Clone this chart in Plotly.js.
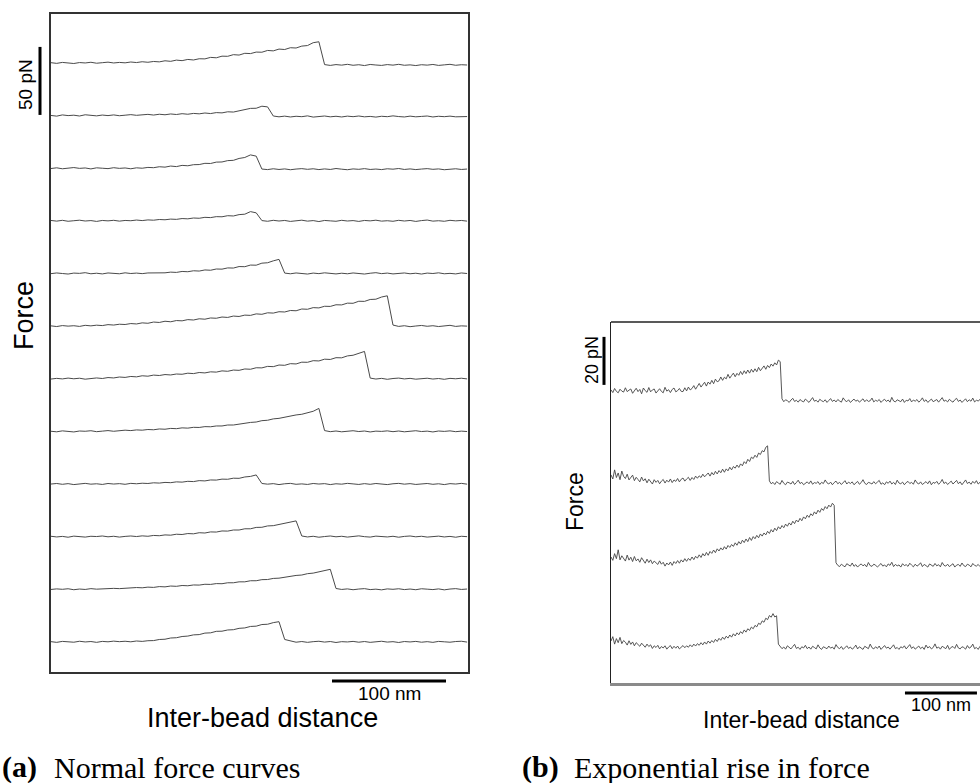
<!DOCTYPE html>
<html>
<head>
<meta charset="utf-8">
<script src="https://cdn.plot.ly/plotly-3.0.1.min.js"></script>
<style>
html,body{margin:0;padding:0;background:#fff;overflow:hidden;}
#chart{width:1000px;height:783px;}
</style>
</head>
<body>
<div id="chart"></div>
<script>
// ---------------- DATA ----------------
// Panel (a): normal force curves. Samples every 5 nm from 0 nm; force (pN) relative to each trace's start level.
const leftStepNm = 5;
const leftTraces = [
[0.2,-0.3,0.4,0.1,-0.4,0.3,0.0,0.5,-0.2,0.2,0.6,0.0,0.4,0.1,0.7,0.3,0.9,0.5,1.1,0.8,1.6,1.2,2.1,1.7,2.6,2.2,3.1,3.0,4.1,3.8,5.0,4.9,6.1,5.8,7.1,6.9,8.0,7.9,9.2,8.9,10.2,9.9,11.2,11.0,12.4,12.8,14.9,15.6,-1.2,-1.8,-1.2,-1.6,-1.0,-1.7,-1.3,-1.9,-1.1,-1.5,-1.8,-1.2,-1.6,-1.0,-1.7,-1.4,-1.9,-1.3,-1.6,-1.1,-1.8,-1.4,-1.0,-1.7,-1.3,-1.5],
[0.1,-0.4,0.5,0.0,0.3,-0.3,0.6,0.1,-0.2,0.4,0.0,0.5,-0.1,0.3,0.7,0.2,0.6,0.9,0.4,1.0,0.6,1.2,0.8,1.4,1.0,1.6,1.3,1.9,1.5,2.2,2.0,2.8,2.6,3.6,4.1,5.3,5.4,6.9,6.4,-0.3,-0.9,-0.4,-1.0,-0.5,-0.8,-0.2,-1.1,-0.6,-0.3,-0.9,-0.5,-1.0,-0.4,-0.8,-0.3,-0.9,-0.6,-1.1,-0.5,-0.8,-0.2,-0.7,-1.0,-0.4,-0.9,-0.6,-0.3,-1.0,-0.5,-0.8,-0.4,-0.9,-0.6,-0.7],
[-0.2,0.3,-0.4,0.1,0.5,-0.1,0.2,-0.5,0.3,0.0,-0.3,0.4,-0.1,0.2,-0.4,0.3,0.0,0.6,0.4,1.1,0.8,1.6,1.2,2.1,1.8,2.6,2.7,3.6,3.5,4.5,4.6,5.6,5.8,7.2,7.9,9.8,8.9,-0.6,-1.0,-0.4,-0.9,-0.5,-1.1,-0.6,-0.3,-0.8,-0.4,-1.0,-0.5,-0.9,-0.2,-0.7,-1.1,-0.5,-0.8,-0.3,-0.9,-0.6,-1.0,-0.4,-0.7,-0.2,-0.9,-0.5,-1.0,-0.6,-0.3,-0.8,-0.5,-1.1,-0.6,-0.4,-0.9,-0.6],
[0.3,-0.2,0.4,-0.3,0.1,0.5,-0.1,0.2,-0.4,0.3,0.0,0.4,-0.2,0.3,0.1,0.6,0.2,0.7,0.5,1.0,0.8,1.3,1.1,1.7,1.5,2.1,1.9,2.6,2.4,3.1,3.0,3.8,3.6,4.6,4.9,6.8,5.9,0.2,-0.3,0.4,-0.1,0.3,-0.4,0.1,0.5,-0.2,0.2,-0.5,0.3,0.0,-0.3,0.4,-0.1,0.2,-0.4,0.3,0.0,0.5,-0.2,0.1,-0.3,0.4,-0.1,0.3,-0.4,0.2,0.6,-0.2,0.1,-0.3,0.4,0.0,0.3,-0.2],
[-0.1,0.4,0.0,-0.4,0.3,0.1,0.6,-0.2,0.2,-0.3,0.4,0.1,-0.2,0.5,0.0,0.3,-0.1,0.4,0.3,0.7,0.5,1.0,0.8,1.5,1.3,2.0,1.8,2.6,2.4,3.3,3.2,4.1,4.0,5.1,5.0,6.2,6.1,7.6,7.9,9.3,10.4,0.3,-0.2,0.4,0.0,-0.4,0.3,-0.1,0.5,0.1,-0.3,0.2,-0.2,0.4,0.0,-0.4,0.2,0.6,-0.1,0.3,-0.3,0.1,0.4,-0.2,0.2,-0.4,0.3,0.0,0.5,-0.2,0.1,-0.3,0.4,0.0],
[0.2,-0.3,0.4,0.0,0.3,-0.2,0.6,0.2,0.7,0.4,1.1,0.8,1.4,1.2,1.9,1.6,2.4,2.1,3.0,2.7,3.6,3.2,4.1,3.9,4.8,4.5,5.4,5.1,6.0,5.8,6.7,6.4,7.4,7.1,8.1,7.9,9.0,8.7,9.8,9.6,10.6,10.4,11.5,11.3,12.6,12.4,13.6,13.4,14.6,14.5,15.7,15.6,16.9,16.8,18.3,18.2,19.6,19.8,21.4,22.3,0.8,-0.2,0.3,-0.4,0.1,0.5,-0.1,0.3,-0.3,0.2,0.6,-0.2,0.2,0.0],
[-0.2,0.3,-0.1,0.5,0.0,0.4,-0.3,0.3,0.6,0.2,0.9,0.6,1.3,1.0,1.7,1.4,2.2,1.9,2.7,2.4,3.1,2.8,3.5,3.3,4.1,3.8,4.6,4.3,5.1,4.9,5.8,5.5,6.4,6.2,7.2,7.0,8.1,8.0,9.1,8.9,10.1,9.9,11.1,10.9,12.2,12.1,13.3,13.1,14.4,14.2,15.5,15.4,16.8,17.3,18.7,20.1,0.5,-0.2,0.3,-0.4,0.2,0.5,-0.1,0.3,-0.3,0.1,0.4,-0.2,0.2,-0.4,0.3,0.0,0.4,-0.1],
[0.1,-0.3,0.4,0.0,-0.4,0.3,0.1,0.5,-0.2,0.2,0.6,0.1,0.5,0.9,0.6,1.1,0.9,1.4,1.2,1.8,1.6,2.2,2.0,2.6,2.4,3.0,2.9,3.5,3.4,4.0,4.0,4.7,4.7,5.4,5.6,6.6,6.9,7.9,8.2,9.2,9.6,10.5,11.0,12.1,12.6,13.9,14.8,16.9,0.6,-0.2,0.3,-0.3,0.1,0.5,-0.1,0.3,-0.4,0.2,0.0,0.4,-0.2,0.3,-0.3,0.1,0.5,-0.1,0.2,-0.4,0.3,0.0,0.4,-0.2,0.2,-0.1],
[0.0,0.4,-0.2,0.3,-0.4,0.1,0.5,-0.1,0.2,-0.3,0.4,0.0,0.3,-0.2,0.5,0.2,0.6,0.4,0.9,0.7,1.2,1.0,1.6,1.4,2.0,1.8,2.5,2.3,3.0,2.9,3.6,3.5,4.3,4.2,5.2,5.6,6.7,0.4,-0.1,0.3,-0.4,0.2,0.5,-0.2,0.1,-0.3,0.4,0.0,0.3,-0.4,0.2,-0.1,0.5,0.1,-0.3,0.3,-0.2,0.4,0.0,-0.4,0.2,0.5,-0.1,0.3,-0.3,0.1,0.4,-0.2,0.2,-0.4,0.3,0.0,0.5,-0.1],
[0.3,-0.2,0.2,-0.4,0.4,0.0,-0.3,0.3,0.1,0.5,-0.1,0.3,-0.3,0.2,0.5,0.1,0.6,0.3,0.9,0.7,1.3,1.1,1.8,1.6,2.3,2.1,2.9,2.7,3.5,3.4,4.2,4.1,4.9,4.9,5.8,5.8,6.8,6.9,7.9,8.1,9.0,9.5,10.4,11.6,0.5,-0.2,0.3,-0.4,0.1,0.5,-0.1,0.3,-0.3,0.2,0.6,0.0,-0.3,0.4,0.1,-0.2,0.3,-0.4,0.2,0.5,-0.1,0.3,-0.3,0.1,0.4,-0.2,0.2,-0.4,0.3,0.0],
[-0.1,0.3,0.0,0.4,-0.3,0.2,-0.1,0.5,0.1,0.4,0.2,0.7,0.5,0.9,0.8,1.3,1.1,1.6,1.4,2.0,1.8,2.4,2.2,2.8,2.6,3.2,3.1,3.7,3.6,4.2,4.1,4.8,4.8,5.5,5.5,6.3,6.3,7.1,7.2,8.0,8.2,9.0,9.3,10.2,10.5,11.5,11.9,13.0,13.6,14.7,0.6,-0.1,0.3,-0.3,0.2,0.5,-0.2,0.1,-0.4,0.3,0.0,0.4,-0.2,0.2,-0.3,0.4,0.1,-0.2,0.3,-0.4,0.2,0.5,-0.1,0.2],
[0.2,-0.3,0.4,0.1,-0.2,0.5,0.0,0.3,-0.3,0.4,0.1,0.6,0.2,0.5,0.1,0.7,0.4,0.9,1.0,1.8,2.0,2.9,3.1,4.0,4.3,5.2,5.4,6.5,6.7,7.8,7.9,8.8,9.0,10.0,10.3,11.4,11.6,12.8,13.0,14.2,14.9,1.8,0.6,-0.2,0.3,-0.3,0.2,0.5,-0.1,0.3,-0.4,0.2,0.0,0.4,-0.2,0.3,-0.3,0.1,0.5,-0.1,0.2,-0.4,0.3,0.0,0.4,-0.2,0.2,-0.3,0.4,0.1,-0.2,0.3,0.5,-0.1]
];

// Panel (b): exponential rise in force. Samples every 2.5 nm; force (pN) relative to post-rupture level.
const rightStepNm = 2.5;
const rightTraceA = [4.6,3.5,5.2,4.0,3.4,4.9,4.1,3.7,5.5,3.9,4.5,5.0,3.2,4.2,5.3,3.9,4.8,3.0,5.4,4.3,3.6,5.6,3.8,4.6,5.0,3.3,4.4,5.1,4.0,3.4,5.7,4.1,4.7,3.5,4.8,5.4,3.8,4.3,5.2,4.0,
3.9,5.5,4.2,5.8,4.6,5.2,6.4,4.9,6.1,7.3,5.8,6.6,7.8,6.2,7.9,7.0,8.6,7.2,9.1,8.0,8.4,10.0,8.6,9.9,9.2,11.1,9.5,10.6,11.6,10.1,11.5,10.7,12.3,11.0,12.6,11.4,12.9,11.6,13.2,12.0,
13.4,12.2,14.0,12.6,13.5,14.6,13.2,14.8,13.9,15.4,14.5,15.9,15.0,17.0,16.4,
0.9,-0.3,0.5,0.1,-0.6,0.4,1.1,-0.2,0.3,-0.5,0.6,0.0,-0.4,0.8,0.2,-0.6,0.4,1.4,-0.1,0.3,-0.5,0.7,0.1,-0.3,0.5,-0.6,0.2,1.0,-0.2,0.4,-0.4,0.6,0.0,-0.5,1.3,0.2,-0.3,0.5,-0.6,0.3,0.8,
-0.1,0.4,-0.5,0.2,0.9,-0.3,0.5,-0.2,0.1,1.2,-0.4,0.3,-0.1,0.6,-0.6,0.2,0.7,-0.2,0.4,-0.5,1.5,0.0,-0.4,0.5,0.1,-0.3,0.8,-0.6,0.3,0.0,1.0,-0.4,0.4,-0.1,0.6,-0.5,0.2,1.3,-0.2,0.5,
-0.6,0.3,0.8,-0.3,0.1,0.6,-0.5,0.4,1.4,-0.1,0.3,-0.4,0.7,0.0,-0.5,0.5,1.1,-0.2,0.4,-0.6,0.2,0.9,-0.3,0.5,-0.1,1.2,-0.4,0.3,0.0,0.6,-0.2];
const rightTraceB = [3.5,1.8,5.6,2.4,4.3,1.5,5.1,2.9,2.0,3.8,1.4,2.7,3.4,1.1,2.5,1.6,0.6,2.6,1.0,1.9,0.2,1.7,0.9,-0.3,1.5,0.4,1.2,-0.2,0.9,1.6,0.1,1.3,0.5,1.8,0.3,1.4,0.8,2.0,0.6,1.7,
2.2,0.9,1.8,2.5,1.2,2.4,1.6,3.0,2.1,3.1,2.4,3.8,2.7,3.6,4.3,3.0,4.5,3.5,5.0,3.9,5.3,4.4,5.9,4.6,6.0,5.2,6.7,5.6,7.0,6.3,7.6,6.6,8.1,7.3,9.0,8.2,10.0,9.1,10.9,10.3,
11.7,10.8,12.6,12.0,13.6,13.1,15.0,15.6,
1.0,-0.2,0.4,-0.5,0.7,0.1,-0.4,1.2,0.0,-0.6,0.5,0.2,-0.3,0.8,-0.5,0.3,1.3,-0.1,0.4,-0.6,0.2,0.6,-0.2,1.0,-0.4,0.3,0.0,0.7,-0.5,0.4,-0.1,1.4,0.2,-0.3,0.5,-0.6,0.3,0.9,-0.2,0.4,
-0.5,0.1,1.1,-0.3,0.5,-0.1,0.6,-0.6,0.2,0.8,-0.4,0.3,1.5,0.0,-0.5,0.4,0.1,-0.3,0.7,-0.2,0.5,1.2,-0.4,0.2,-0.6,0.6,0.0,0.9,-0.3,0.4,-0.5,1.3,0.1,-0.2,0.5,-0.6,0.3,0.8,-0.1,0.4,
-0.4,1.4,0.2,-0.3,0.6,-0.5,0.1,0.7,-0.2,1.0,-0.6,0.4,0.0,0.8,-0.4,0.3,1.6,-0.1,0.5,-0.5,0.2,0.9,-0.3,0.4,1.2,-0.2,0.6,-0.6,0.3,1.4,-0.1,0.5,-0.4,0.8,0.0,1.1,-0.3,0.4,-0.5];
const rightTraceC = [3.6,2.2,5.0,2.9,6.6,2.4,4.1,3.0,1.9,4.4,2.3,3.5,1.7,3.8,2.0,2.8,1.4,3.3,1.9,1.0,2.7,1.3,2.4,0.8,1.9,1.2,0.5,2.0,0.6,1.4,-0.2,1.1,0.3,1.5,0.1,1.7,0.9,2.1,1.0,2.4,
1.5,2.9,1.8,3.0,2.2,3.6,2.5,3.9,3.1,4.5,3.4,5.0,4.0,5.5,4.3,5.9,5.1,6.5,5.4,7.0,6.1,7.4,6.5,7.9,6.9,8.4,7.6,8.8,8.0,9.5,8.5,10.0,9.0,10.6,9.6,11.1,10.0,11.7,10.5,12.1,
11.2,12.6,11.6,13.2,12.3,13.6,12.8,14.3,13.4,15.0,14.0,15.6,14.6,16.2,15.3,16.7,15.8,17.3,16.4,17.8,16.9,18.5,17.5,19.0,18.2,19.7,18.7,20.3,19.5,21.0,20.1,21.6,20.8,22.4,21.5,23.1,22.2,23.8,23.0,24.6,
23.7,25.2,24.4,26.0,25.1,
1.2,0.1,-0.4,0.6,0.0,-0.5,0.8,0.3,-0.2,1.1,-0.3,0.4,-0.6,0.2,0.7,-0.1,0.5,-0.5,1.3,0.0,-0.3,0.6,0.2,-0.6,0.4,0.9,-0.2,0.3,-0.5,0.7,0.1,1.4,-0.4,0.5,-0.1,0.3,-0.6,0.8,0.0,0.4,
-0.3,1.0,0.2,-0.5,0.6,-0.2,0.3,1.2,-0.4,0.5,0.0,-0.6,0.7,0.2,-0.3,0.9,-0.1,0.4,-0.5,1.3,0.1,-0.2,0.6,-0.4,0.3,0.8,-0.6,0.2,0.5,-0.3,1.1,0.0,-0.4,0.6,0.2,-0.5,0.9,0.1,-0.2,0.5,
-0.4,0.3];
const rightTraceD = [2.9,4.7,1.6,3.9,2.2,4.4,1.8,3.1,2.4,1.2,3.0,1.5,2.5,0.9,2.2,1.6,0.7,2.0,1.1,0.3,1.6,0.6,1.3,-0.2,0.9,0.2,1.1,-0.4,0.6,0.0,0.9,-0.5,0.4,1.0,-0.3,0.7,-0.1,0.8,-0.4,0.5,
1.0,0.1,0.9,0.3,1.3,0.5,1.6,0.8,1.8,1.1,2.2,1.3,2.5,1.6,2.9,2.0,3.1,2.3,3.6,2.7,4.0,3.2,4.5,3.6,4.9,4.1,5.4,4.5,5.9,5.0,6.3,5.5,6.8,6.0,7.5,6.6,8.0,7.3,8.7,8.0,
9.4,8.8,10.3,9.8,11.3,10.7,12.4,11.8,13.5,12.8,14.3,12.9,13.4,
1.6,0.6,-0.3,0.4,-0.5,0.9,0.1,-0.4,0.6,1.5,-0.2,0.3,-0.6,0.5,0.0,1.1,-0.3,0.4,-0.5,0.7,0.2,-0.4,1.3,0.0,-0.6,0.5,0.1,-0.3,0.8,-0.1,0.4,-0.5,1.4,0.2,-0.3,0.6,-0.6,0.3,0.9,-0.2,
0.4,-0.5,0.1,1.2,-0.4,0.5,0.0,-0.6,0.7,0.2,-0.3,1.6,0.1,-0.4,0.5,-0.2,0.8,-0.6,0.3,1.0,-0.1,0.4,-0.5,0.6,1.3,-0.3,0.2,-0.6,0.5,0.0,0.9,-0.4,0.3,1.4,-0.2,0.5,-0.5,0.1,0.8,-0.3,
0.4,-0.6,1.2,0.0,0.6,-0.4,0.2,1.7,-0.1,0.4,-0.5,0.7,0.1,-0.3,1.1,-0.6,0.3,0.6,-0.2,1.5,0.0,-0.4,0.5,0.2,-0.5,1.0,-0.1,0.4,1.6,-0.3,0.2,-0.6,0.7,0.1];
const rightTraces = [rightTraceA, rightTraceB, rightTraceC, rightTraceD];

// scale bars (physical sizes)
const leftForceBar = 50;   // pN
const rightForceBar = 20;  // pN
const distBar = 100;       // nm

// texts
const labels = {
  force: "Force",
  distance: "Inter-bead distance",
  leftForce: "50 pN",
  rightForce: "20 pN",
  dist: "100 nm",
  capA: "(a)", capAText: "Normal force curves",
  capB: "(b)", capBText: "Exponential rise in force"
};

// ---------------- LAYOUT HELPERS ----------------
const W = 1000, H = 783;
const fx = p => p / W;
const fy = p => 1 - p / H;

// stacking (display offsets, pN)
const leftTop = 447.8, leftStep = 38.7;
const rightTop = 117.5, rightStep = 34.3;

const data = [];
leftTraces.forEach((f, i) => {
  const off = leftTop - leftStep * i;
  data.push({type: 'scatter', mode: 'lines', x0: 0, dx: leftStepNm,
    y: f.map(v => v + off), xaxis: 'x', yaxis: 'y',
    line: {color: '#4a4a4a', width: 1}, hoverinfo: 'skip'});
});
rightTraces.forEach((f, i) => {
  const off = rightTop - rightStep * i;
  data.push({type: 'scatter', mode: 'lines', x0: 0, dx: rightStepNm,
    y: f.map(v => v + off), xaxis: 'x2', yaxis: 'y2',
    line: {color: '#444', width: 0.9}, hoverinfo: 'skip'});
});

const axBase = {showticklabels: false, ticks: '', showgrid: false, zeroline: false, fixedrange: true};
const sans = 'Liberation Sans, Arial, sans-serif';
const serif = 'Liberation Serif, Times New Roman, serif';

function ann(text, x, y, size, opts) {
  return Object.assign({text: text, x: x, y: y, xref: 'paper', yref: 'paper', showarrow: false,
    xanchor: 'center', yanchor: 'middle', font: {family: sans, size: size, color: '#000'}}, opts || {});
}
const capFont = {family: serif, size: 30, color: '#000'};

const layout = {
  width: W, height: H,
  margin: {l: 0, r: 0, t: 0, b: 0},
  paper_bgcolor: '#fff', plot_bgcolor: 'rgba(0,0,0,0)',
  showlegend: false,
  xaxis: Object.assign({}, axBase, {domain: [fx(51), fx(468)], range: [0, 365.8], anchor: 'y',
    showline: true, mirror: true, linecolor: '#333', linewidth: 2}),
  yaxis: Object.assign({}, axBase, {domain: [fy(672), fy(14)], range: [0, 483.8], anchor: 'x',
    showline: true, mirror: true, linecolor: '#333', linewidth: 2}),
  xaxis2: Object.assign({}, axBase, {domain: [fx(611), fx(982)], range: [0, 515.3], anchor: 'y2',
    showline: true, mirror: false, linecolor: '#8a8a8a', linewidth: 2.5}),
  yaxis2: Object.assign({}, axBase, {domain: [fy(683), fy(322)], range: [0, 150.4], anchor: 'x2',
    showline: true, mirror: true, linecolor: '#222', linewidth: 1.5}),
  shapes: [
    {type: 'line', xref: 'x2 domain', yref: 'y2 domain', x0: 0, x1: 1, y0: 1, y1: 1, line: {color: '#222', width: 1.5}},
    {type: 'line', xref: 'x', yref: 'paper', x0: 246.5, x1: 246.5 + distBar, y0: fy(681), y1: fy(681), line: {color: '#000', width: 3}},
    {type: 'line', xref: 'paper', yref: 'y', x0: fx(40), x1: fx(40), y0: 409.6, y1: 409.6 + leftForceBar, line: {color: '#000', width: 3}},
    {type: 'line', xref: 'paper', yref: 'y2', x0: fx(604), x1: fx(604), y0: 124.2, y1: 124.2 + rightForceBar, line: {color: '#000', width: 3}},
    {type: 'line', xref: 'x2', yref: 'paper', x0: 408.3, x1: 408.3 + distBar, y0: fy(693), y1: fy(693), line: {color: '#000', width: 3}}
  ],
  annotations: [
    ann(labels.force, fx(24), fy(316), 27, {textangle: -90}),
    ann(labels.distance, fx(262), fy(718), 27),
    ann(labels.dist, fx(389), fy(693), 19),
    ann(labels.leftForce, fx(26), fy(85), 19, {textangle: -90}),
    ann(labels.force, fx(575), fy(502), 23, {textangle: -90}),
    ann(labels.distance, fx(801), fy(720), 23),
    ann(labels.dist, fx(941), fy(705), 18),
    ann(labels.rightForce, fx(592), fy(360), 18, {textangle: -90}),
    ann('<b>' + labels.capA + '</b>', fx(0), fy(767), 30, {xanchor: 'left', font: capFont}),
    ann(labels.capAText, fx(52), fy(767), 30, {xanchor: 'left', font: capFont}),
    ann('<b>' + labels.capB + '</b>', fx(520), fy(767), 30, {xanchor: 'left', font: capFont}),
    ann(labels.capBText, fx(572), fy(767), 30, {xanchor: 'left', font: capFont})
  ]
};

Plotly.newPlot('chart', data, layout, {staticPlot: true, displayModeBar: false});
</script>
</body>
</html>
